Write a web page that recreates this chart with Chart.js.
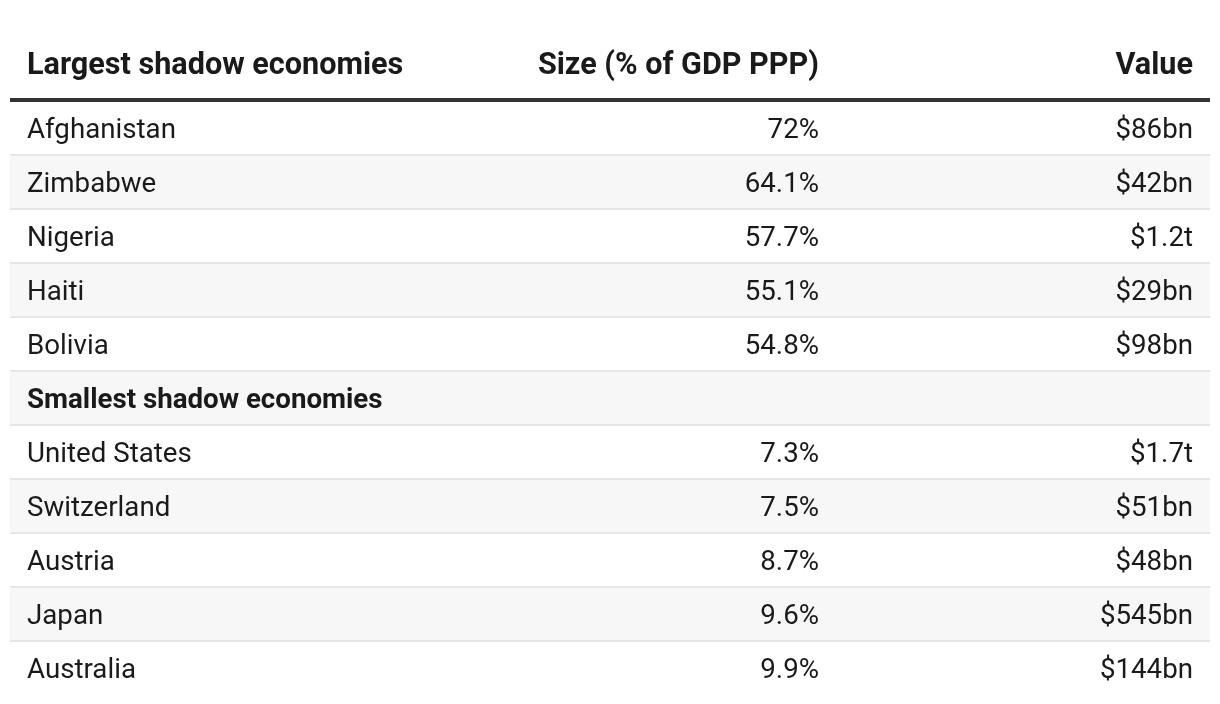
<!DOCTYPE html>
<html>
<head>
<meta charset="utf-8">
<script src="https://cdn.jsdelivr.net/npm/chart.js@4/dist/chart.umd.min.js"></script>
<style>
  html, body { margin: 0; padding: 0; background: #ffffff; }
  #wrap { width: 1220px; height: 704px; }
</style>
</head>
<body>
<div id="wrap"><canvas id="c" width="1220" height="704"></canvas></div>
<script>
// ---- data ----
const headerLabels = ['Largest shadow economies', 'Size (% of GDP PPP)', 'Value'];
const sectionLabel = 'Smallest shadow economies';
const largestCountries = ['Afghanistan', 'Zimbabwe', 'Nigeria', 'Haiti', 'Bolivia'];
const largestSize = [72, 64.1, 57.7, 55.1, 54.8];
const largestValue = ['$86bn', '$42bn', '$1.2t', '$29bn', '$98bn'];
const smallestCountries = ['United States', 'Switzerland', 'Austria', 'Japan', 'Australia'];
const smallestSize = [7.3, 7.5, 8.7, 9.6, 9.9];
const smallestValue = ['$1.7t', '$51bn', '$48bn', '$545bn', '$144bn'];

// ---- build rows ----
const rowLabels = [...largestCountries, sectionLabel, ...smallestCountries];
const rowSize = [...largestSize, null, ...smallestSize];
const rowValue = [...largestValue, null, ...smallestValue];
const rowIsSection = rowLabels.map(l => l === sectionLabel);
const X_MAX = 1200;
const stripeData = rowLabels.map((_, i) => (i % 2 === 1 ? [0, X_MAX] : null));

// column anchors in x-scale units (layout)
const COL1_LEFT = 17, COL2_RIGHT = 809, COL3_RIGHT = 1183;
const FONT = 'Roboto, "Noto Sans", sans-serif';
const FS = 27.7;
const FS_HEAD = 30.6;

const tablePlugin = {
  id: 'tableText',
  afterDatasetsDraw(chart) {
    const { ctx, chartArea, scales } = chart;
    const xs = scales.x, ys = scales.y;
    ctx.save();
    // row separators
    ctx.strokeStyle = '#e6e6e6';
    ctx.lineWidth = 2;
    for (let i = 1; i < rowLabels.length; i++) {
      const y = Math.round((ys.getPixelForValue(i - 1) + ys.getPixelForValue(i)) / 2);
      ctx.beginPath();
      ctx.moveTo(xs.getPixelForValue(0), y);
      ctx.lineTo(xs.getPixelForValue(X_MAX), y);
      ctx.stroke();
    }
    // header thick rule
    ctx.strokeStyle = '#333333';
    ctx.lineWidth = 4;
    ctx.beginPath();
    ctx.moveTo(xs.getPixelForValue(0), chartArea.top - 1);
    ctx.lineTo(xs.getPixelForValue(X_MAX), chartArea.top - 1);
    ctx.stroke();

    // header text
    ctx.fillStyle = '#1a1a1a';
    ctx.textBaseline = 'middle';
    ctx.font = '700 ' + FS_HEAD + 'px ' + FONT;
    const hy = chartArea.top - 35;
    ctx.textAlign = 'left';
    ctx.fillText(headerLabels[0], xs.getPixelForValue(COL1_LEFT), hy);
    ctx.textAlign = 'right';
    ctx.fillText(headerLabels[1], xs.getPixelForValue(COL2_RIGHT), hy);
    ctx.fillText(headerLabels[2], xs.getPixelForValue(COL3_RIGHT), hy);

    // body
    rowLabels.forEach((lab, i) => {
      const y = ys.getPixelForValue(i) + 3.5;
      ctx.font = (rowIsSection[i] ? '700 ' : '400 ') + FS + 'px ' + FONT;
      ctx.fillStyle = '#1a1a1a';
      ctx.textAlign = 'left';
      ctx.fillText(lab, xs.getPixelForValue(COL1_LEFT), y);
      if (rowSize[i] !== null) {
        ctx.textAlign = 'right';
        ctx.fillText(rowSize[i] + '%', xs.getPixelForValue(COL2_RIGHT), y);
        ctx.fillText(rowValue[i], xs.getPixelForValue(COL3_RIGHT), y);
      }
    });
    ctx.restore();
  }
};

function draw() {
  new Chart(document.getElementById('c'), {
    type: 'bar',
    data: {
      labels: rowLabels,
      datasets: [{
        data: stripeData,
        backgroundColor: '#f7f7f7',
        borderWidth: 0,
        barPercentage: 1,
        categoryPercentage: 1
      }]
    },
    options: {
      indexAxis: 'y',
      responsive: false,
      animation: false,
      devicePixelRatio: 1,
      layout: { padding: { left: 10, right: 10, top: 101, bottom: 9 } },
      plugins: { legend: { display: false }, tooltip: { enabled: false }, title: { display: false } },
      scales: {
        x: { display: false, min: 0, max: X_MAX },
        y: { display: false, offset: true }
      }
    },
    plugins: [tablePlugin]
  });
}

if (document.fonts && document.fonts.load) {
  Promise.all([
    document.fonts.load('400 27px Roboto'),
    document.fonts.load('700 30px Roboto')
  ]).then(draw, draw);
} else { draw(); }
</script>
</body>
</html>
